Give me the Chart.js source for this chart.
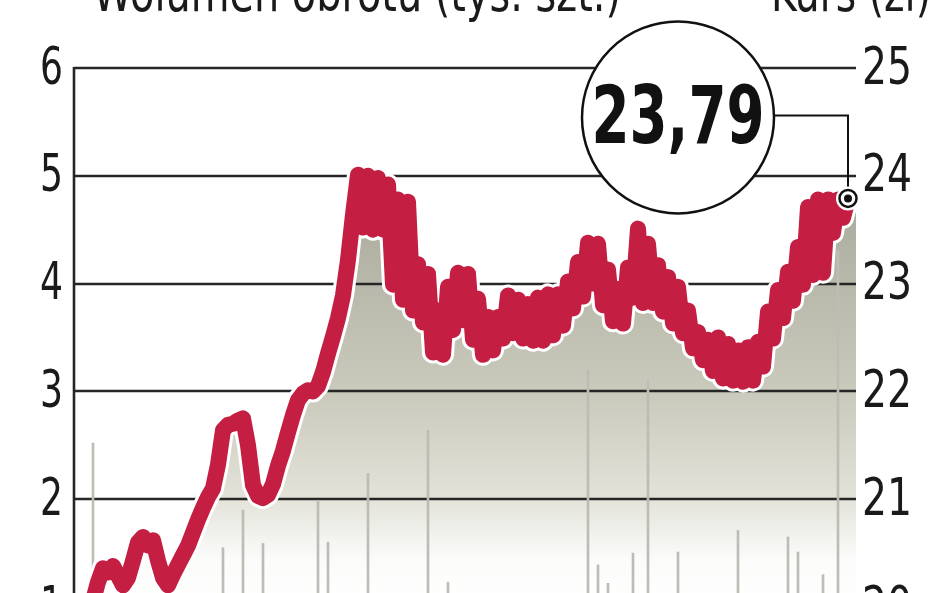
<!DOCTYPE html>
<html><head><meta charset="utf-8">
<style>
html,body{margin:0;padding:0;background:#fff;overflow:hidden;width:948px;height:593px}
#wrap{position:absolute;left:0;top:0;width:948px;height:660px}
</style>
<script src="https://cdn.jsdelivr.net/npm/chart.js@4.4.1/dist/chart.umd.min.js"></script>
</head><body><div id="wrap"><canvas id="c" width="948" height="660"></canvas></div>
<script>
const legendLabels = ['Wolumen obrotu (tys. szt.)', 'Kurs (zł)'];
// closing price (zł), one value per session, right axis
const priceValues = [
 20.06,20.23,20.36,20.32,20.38,20.29,20.20,20.27,20.43,20.60,
 20.65,20.57,20.62,20.43,20.27,20.20,20.30,20.39,20.48,20.57,
 20.69,20.81,20.92,21.02,21.10,21.32,21.64,21.69,21.70,21.73,
 21.75,21.50,21.13,21.03,21.01,21.04,21.14,21.31,21.45,21.62,
 21.78,21.92,21.98,22.01,22.00,22.05,22.18,22.35,22.51,22.68,
 22.89,23.22,23.64,24.01,23.52,24.00,23.50,23.98,23.50,23.92,
 22.99,23.78,22.85,23.76,22.75,23.18,22.64,23.09,22.36,22.75,
 22.34,22.97,22.57,23.10,22.66,23.09,22.48,22.86,22.34,22.69,
 22.38,22.69,22.49,22.89,22.54,22.85,22.49,22.81,22.47,22.87,
 22.47,22.90,22.52,22.90,22.61,23.02,22.77,23.20,22.88,23.38,
 23.00,23.37,22.80,23.13,22.65,22.95,22.63,23.15,22.87,23.51,
 22.82,23.37,22.82,23.17,22.74,23.06,22.63,22.97,22.54,22.75,
 22.40,22.55,22.29,22.48,22.19,22.50,22.12,22.44,22.10,22.38,
 22.09,22.41,22.10,22.46,22.23,22.74,22.49,22.94,22.68,23.11,
 22.84,23.34,22.99,23.71,23.08,23.78,23.10,23.78,23.47,23.78,
 23.61,23.79];
// volume (thousand shares), left axis: session index and value
const volumeDays   = [0,26,30,34,45,47,55,67,71,99,101,103,108,111,117,129,139,141,146,149];
const volumeValues = [2.52,1.55,1.90,1.59,1.99,1.60,2.24,2.64,1.23,3.20,1.39,1.22,1.50,3.10,1.51,1.71,1.65,1.51,1.30,4.30];
const volumeRange = [1, 6];
const priceRange = [20, 25];
const dayRange = [-3.8, 152.6];

const pricePts = priceValues.map((v, i) => ({x: i, y: v}));
const fillPts = pricePts.concat([{x: dayRange[1], y: priceValues[priceValues.length - 1]}]);
const volPts = volumeDays.map((d, i) => ({x: d, y: volumeValues[i]}));

const FONT = '"DejaVu Sans",sans-serif';
const RED = '#c41e42';

// draw text squeezed horizontally so that it spans the given width
function squeezed(ctx, text, x, y, align, font, width) {
  ctx.save();
  ctx.font = font;
  const w = ctx.measureText(text).width;
  const sx = width / w;
  ctx.translate(x, y);
  ctx.scale(sx, 1);
  ctx.textAlign = align;
  ctx.fillText(text, 0, 0);
  ctx.restore();
}

function areaGradient(context) {
  const chart = context.chart;
  const a = chart.chartArea;
  if (!a) return '#c8c8ba';
  const g = chart.ctx.createLinearGradient(0, a.top, 0, a.bottom);
  g.addColorStop(0.0, '#9e9e90');
  g.addColorStop(0.19, '#a6a698');
  g.addColorStop(0.45, '#bdbdaf');
  g.addColorStop(0.62, '#cbcbbe');
  g.addColorStop(0.80, '#e3e3da');
  g.addColorStop(0.91, '#fbfbfa');
  g.addColorStop(1.0, '#ffffff');
  return g;
}

const decor = {
  id: 'decor',
  afterDatasetDraw(chart, args) {
    if (args.index !== 0) return;
    const {ctx, chartArea: a, scales} = chart;
    const yL = scales.yL;
    ctx.save();
    ctx.strokeStyle = '#262626';
    ctx.lineWidth = 2.6;
    yL.ticks.forEach(t => {
      const y = Math.round(yL.getPixelForValue(t.value));
      ctx.beginPath(); ctx.moveTo(a.left, y); ctx.lineTo(a.right, y); ctx.stroke();
    });
    ctx.beginPath(); ctx.moveTo(a.left, a.top - 1); ctx.lineTo(a.left, a.bottom); ctx.stroke();
    ctx.restore();
  },
  afterDraw(chart) {
    const {ctx, chartArea: a, scales: {x, yL, yR}} = chart;
    ctx.save();
    ctx.fillStyle = '#1a1a1a';
    ctx.textBaseline = 'alphabetic';
    // legend (top cropped)
    squeezed(ctx, legendLabels[0], 93, 11, 'left', '54px ' + FONT, 528);
    squeezed(ctx, legendLabels[1], 771, 11, 'left', '54px ' + FONT, 160);

    // tick labels
    ctx.textBaseline = 'middle';
    yL.ticks.forEach(t => {
      const s = String(t.value);
      squeezed(ctx, s, a.left - 11, yL.getPixelForValue(t.value) + 2, 'right', '52px ' + FONT, 23 * s.length);
    });
    yR.ticks.forEach(t => {
      const s = String(t.value);
      squeezed(ctx, s, a.right + 6, yR.getPixelForValue(t.value) + 2, 'left', '52px ' + FONT, 25 * s.length);
    });

    // callout with last value
    ctx.textBaseline = 'alphabetic';
    const n = priceValues.length - 1;
    const px = x.getPixelForValue(n), py = yR.getPixelForValue(priceValues[n]);
    const cx = px - 170, cy = py - 81, r = 96;
    ctx.strokeStyle = '#111';
    ctx.lineWidth = 2;
    ctx.beginPath(); ctx.moveTo(cx + r, cy - 2); ctx.lineTo(px, cy - 2); ctx.lineTo(px, py); ctx.stroke();
    ctx.beginPath(); ctx.arc(cx, cy, r, 0, Math.PI * 2);
    ctx.fillStyle = '#fff'; ctx.fill();
    ctx.lineWidth = 2.5; ctx.stroke();
    ctx.fillStyle = '#111';
    squeezed(ctx, priceValues[n].toFixed(2).replace('.', ','), cx, cy + 26, 'center', 'bold 80px ' + FONT, 173);

    ctx.beginPath(); ctx.arc(px, py, 12, 0, Math.PI * 2); ctx.fillStyle = '#fff'; ctx.fill();
    ctx.beginPath(); ctx.arc(px, py, 8.5, 0, Math.PI * 2); ctx.lineWidth = 2.5; ctx.strokeStyle = '#111'; ctx.stroke();
    ctx.beginPath(); ctx.arc(px, py, 4, 0, Math.PI * 2); ctx.fillStyle = '#111'; ctx.fill();
    ctx.restore();
  }
};

new Chart(document.getElementById('c'), {
  data: {
    datasets: [
      {type: 'line', data: fillPts, yAxisID: 'yR', fill: 'start', borderWidth: 0,
       backgroundColor: areaGradient, pointRadius: 0, order: 4},
      {type: 'bar', data: volPts, yAxisID: 'yL', backgroundColor: '#bdbdb5',
       barThickness: 2, grouped: false, order: 3},
      {type: 'line', data: pricePts, yAxisID: 'yR', borderColor: '#ffffff', borderWidth: 22,
       borderJoinStyle: 'round', borderCapStyle: 'round', pointRadius: 0, fill: false, order: 2},
      {type: 'line', data: pricePts, yAxisID: 'yR', borderColor: RED, borderWidth: 16,
       borderJoinStyle: 'round', borderCapStyle: 'round', pointRadius: 0, fill: false, order: 1}
    ]
  },
  options: {
    responsive: false,
    devicePixelRatio: 1,
    animation: false,
    layout: {padding: {top: 68, bottom: 53, left: 0, right: 0}},
    plugins: {legend: {display: false}, tooltip: {enabled: false}},
    scales: {
      x: {type: 'linear', min: dayRange[0], max: dayRange[1], display: false, offset: false},
      yL: {position: 'left', min: volumeRange[0], max: volumeRange[1],
           ticks: {stepSize: 1, display: false},
           grid: {display: false, drawTicks: false}, border: {display: false},
           afterFit(s) { s.width = 74; }},
      yR: {position: 'right', min: priceRange[0], max: priceRange[1],
           ticks: {stepSize: 1, display: false},
           grid: {display: false, drawTicks: false}, border: {display: false},
           afterFit(s) { s.width = 92; }}
    }
  },
  plugins: [decor]
});
</script>
</body></html>
